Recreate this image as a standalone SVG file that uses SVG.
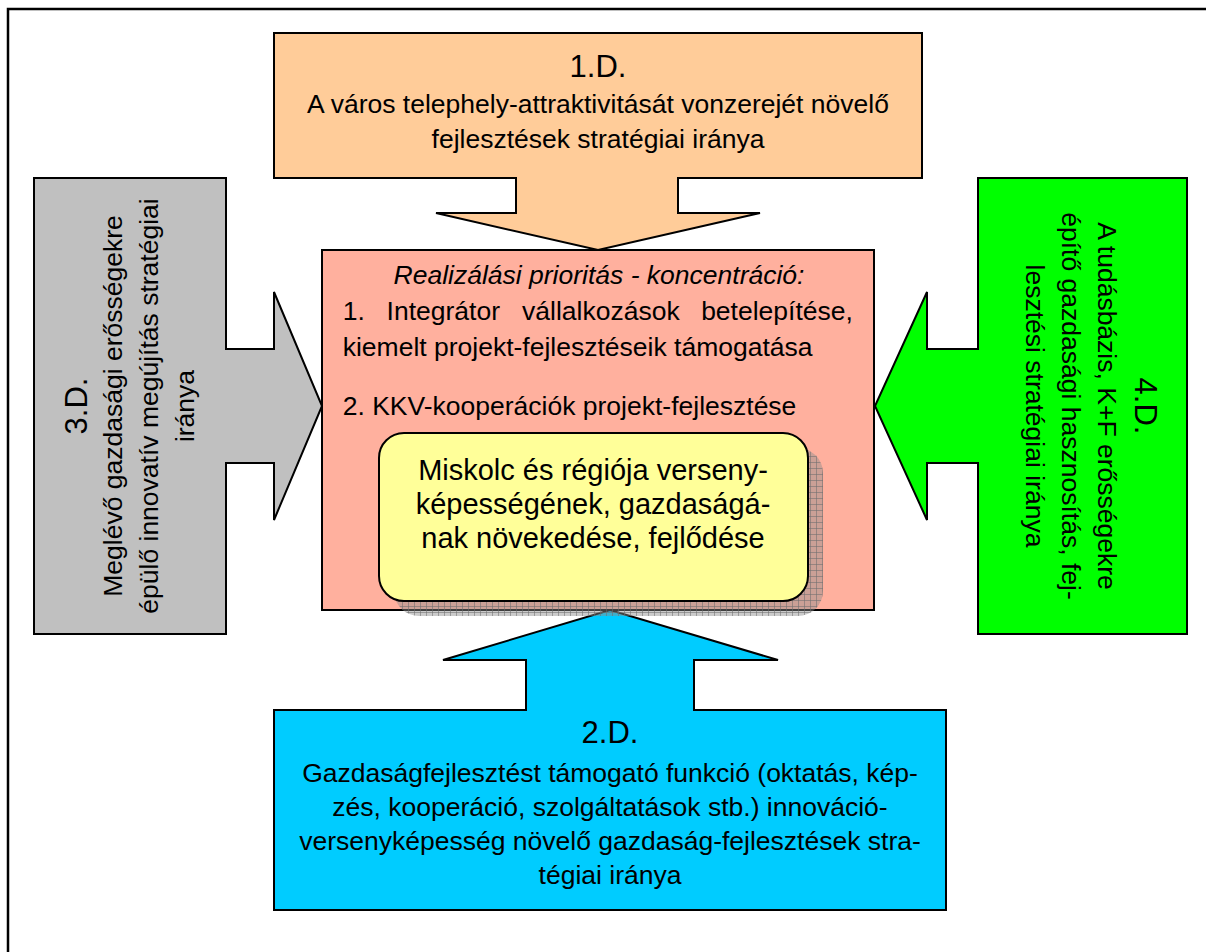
<svg xmlns="http://www.w3.org/2000/svg" width="1206" height="952" viewBox="0 0 1206 952">
<style>
  .shape { stroke: #000; stroke-width: 2; stroke-linejoin: miter; }
  .t { font-family: "Liberation Sans", Arial, sans-serif; font-size: 26.5px; fill: #000; }
  .h { font-family: "Liberation Sans", Arial, sans-serif; font-size: 31px; fill: #000; }
  .c { text-anchor: middle; }
  .big { font-family: "Liberation Sans", Arial, sans-serif; font-size: 29px; fill: #000; text-anchor: middle; }
</style>
<defs>
  <pattern id="grid" width="6" height="6" patternUnits="userSpaceOnUse">
    <rect width="6" height="6" fill="#8c8c8c" fill-opacity="0.45"/>
    <path d="M0 0.5 H6 M0.5 0 V6" stroke="#6e6e6e" stroke-width="1" stroke-opacity="0.55"/>
  </pattern>
</defs>
<rect width="1206" height="952" fill="#fff"/>
<path d="M8 952 V9 H1206" fill="none" stroke="#000" stroke-width="2.5"/>

<g id="node-center">
  <rect class="shape" x="322" y="250" width="552" height="360" fill="#FFB09E"/>
  <text class="t c" x="599" y="284" font-style="italic">Realizálási prioritás - koncentráció:</text>
  <text class="t" y="320"><tspan x="342.7">1.</tspan><tspan x="386.6">Integrátor</tspan><tspan x="522.1">vállalkozások</tspan><tspan x="852.9" text-anchor="end">betelepítése,</tspan></text>
  <text class="t" x="342.7" y="356">kiemelt projekt-fejlesztéseik támogatása</text>
  <text class="t" x="342.7" y="415">2. KKV-kooperációk projekt-fejlesztése</text>
</g>

<g id="node-1D">
  <polygon class="shape" fill="#FFCC99" points="274,33 922,33 922,178 678,178 678,213 760,213 598,250 436,213 516,213 516,178 274,178"/>
  <text class="h c" x="598" y="77">1.D.</text>
  <text class="t c" x="598" y="113">A város telephely-attraktivitását vonzerejét növelő</text>
  <text class="t c" x="598" y="148">fejlesztések stratégiai iránya</text>
</g>

<g id="node-3D">
  <polygon class="shape" fill="#C0C0C0" points="34,178 226,178 226,349 274,349 274,292 322,406 274,520 274,463 226,463 226,634 34,634"/>
  <g transform="translate(130,406) rotate(-90)">
    <text class="h c" x="0" y="-43" font-size="33">3.D.</text>
    <text class="t c" x="0" y="-8">Meglévő gazdasági erősségekre</text>
    <text class="t c" x="0" y="28">épülő innovatív megújítás stratégiai</text>
    <text class="t c" x="0" y="64">iránya</text>
  </g>
</g>

<g id="node-4D">
  <polygon class="shape" fill="#00FF00" points="978,178 1187,178 1187,634 978,634 978,463 927,463 927,520 875,406 927,292 927,349 978,349"/>
  <g transform="translate(1082,406) rotate(90)">
    <text class="h c" x="0" y="-53">4.D.</text>
    <text class="t c" x="0" y="-16">A tudásbázis, K+F erősségekre</text>
    <text class="t c" x="0" y="20">építő gazdasági hasznosítás, fej-</text>
    <text class="t c" x="0" y="56">lesztési stratégiai iránya</text>
  </g>
</g>

<g id="node-2D">
  <polygon class="shape" fill="#00CCFF" points="274,710 526,710 526,660 443,660 610,610 778,660 694,660 694,710 946,710 946,910 274,910"/>
  <text class="h c" x="610" y="743">2.D.</text>
  <text class="t c" x="610" y="782">Gazdaságfejlesztést támogató funkció (oktatás, kép-</text>
  <text class="t c" x="610" y="816">zés, kooperáció, szolgáltatások stb.) innováció-</text>
  <text class="t c" x="610" y="850">versenyképesség növelő gazdaság-fejlesztések stra-</text>
  <text class="t c" x="610" y="884">tégiai iránya</text>
</g>

<g id="node-goal">
  <rect x="394" y="448" width="429" height="168" rx="25" ry="25" fill="url(#grid)"/>
  <rect class="shape" x="379" y="433" width="429" height="168" rx="25" ry="25" fill="#FFFF99"/>
  <text class="big" x="593" y="480">Miskolc és régiója verseny-</text>
  <text class="big" x="593" y="514">képességének, gazdaságá-</text>
  <text class="big" x="593" y="548">nak növekedése, fejlődése</text>
</g>

<g id="connectors"></g>
</svg>
